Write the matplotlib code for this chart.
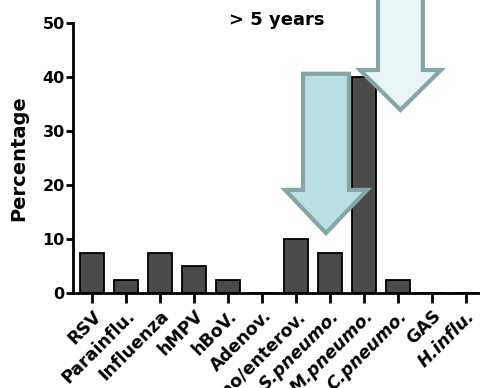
import numpy as np
import matplotlib.pyplot as plt
import matplotlib.transforms as mtransforms
from matplotlib.patches import FancyArrow

# data
categories = ["RSV", "Parainflu.", "Influenza", "hMPV", "hBoV.", "Adenov.",
              "Rhino/enterov.", "S.pneumo.", "M.pneumo.", "C.pneumo.", "GAS", "H.influ."]
percentages = [7.5, 2.5, 7.5, 5, 2.5, 0, 10, 7.5, 40, 2.5, 0, 0]
italic_labels = ["S.pneumo.", "M.pneumo.", "C.pneumo.", "H.influ."]
y_ticks = [0, 10, 20, 30, 40, 50]

# arrow annotations (data coords): x centre, top, tip, shaft width, head width, head base
arrows = [
    dict(x=6.88, top=40.6, tip=11.1, width=1.35, head_width=2.42, head_base=19.1, fill="#b9dfe2"),
    dict(x=9.07, top=62.0, tip=33.9, width=1.32, head_width=2.38, head_base=41.3, fill="#e8f4f5"),
]

fig = plt.figure(figsize=(4.81, 3.88), dpi=100)
ax = fig.add_axes([0.152, 0.2448, 0.848, 0.6959])

x = np.arange(len(categories))
ax.bar(x, percentages, width=0.72, color="#4a4a4a", edgecolor="black", linewidth=1.3, zorder=2)

ax.set_xlim(-0.56, 11.44)
ax.set_ylim(0, 50)
ax.set_yticks(y_ticks)
ax.set_xticks(x)
ax.set_xticklabels(categories, rotation=45, ha="right", rotation_mode="anchor",
                   fontsize=12.5, fontweight="bold")
# nudge the rotated labels a little left/up, as in the original
shift = mtransforms.ScaledTranslation(-4 / 72, 2 / 72, fig.dpi_scale_trans)
for lbl in ax.get_xticklabels():
    lbl.set_transform(lbl.get_transform() + shift)
    if lbl.get_text() in italic_labels:
        lbl.set_fontstyle("italic")
for lbl in ax.get_yticklabels():
    lbl.set_fontweight("bold")
ax.tick_params(axis="y", labelsize=11.5, width=2, length=5, pad=1)
ax.tick_params(axis="x", width=2, length=7, pad=3)

for side in ["top", "right"]:
    ax.spines[side].set_visible(False)
for side in ["left", "bottom"]:
    ax.spines[side].set_linewidth(2)

ax.set_ylabel("Percentage", fontsize=14, fontweight="bold", labelpad=10)
fig.text(0.576, 0.948, "> 5 years", ha="center", va="center", fontsize=13, fontweight="bold")

for a in arrows:
    arr = FancyArrow(a["x"], a["top"], 0, a["tip"] - a["top"], width=a["width"],
                     head_width=a["head_width"], head_length=a["head_base"] - a["tip"],
                     length_includes_head=True, facecolor=a["fill"], edgecolor="#87a5a6",
                     linewidth=3, clip_on=False, zorder=5)
    ax.add_patch(arr)

fig.savefig("out.png", dpi=100)
